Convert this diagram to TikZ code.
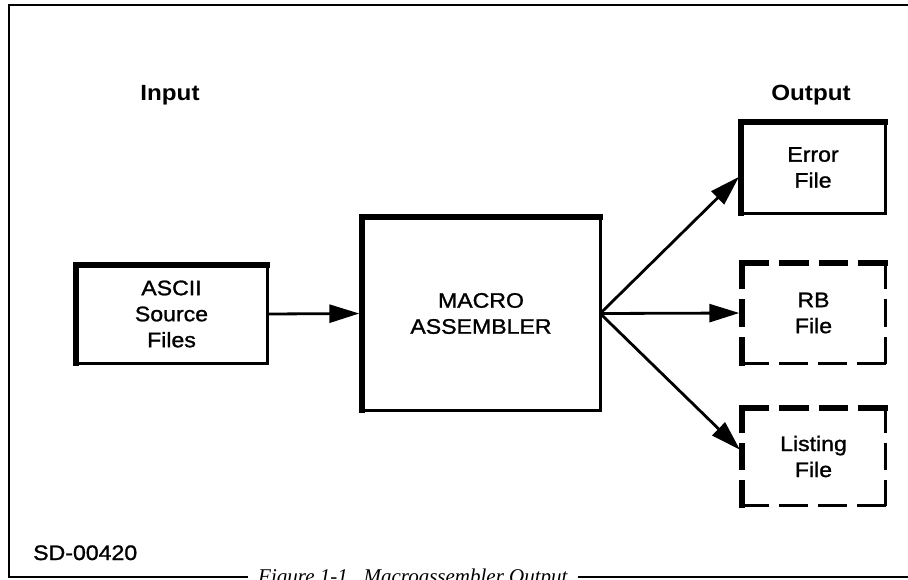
\documentclass[tikz,border=0pt]{standalone}
\usepackage{fontspec}
\setmainfont{Liberation Sans}
\newfontfamily\labfont{Liberation Sans}[FakeStretch=1.1,FakeBold=1.2]
\newfontfamily\headfont{Liberation Sans}[FakeStretch=1.1]
\newfontfamily\capfont{Liberation Serif}
\usetikzlibrary{arrows.meta,calc}
\tikzset{
  lab/.style={font=\labfont\fontsize{21}{26}\selectfont, align=center},
  head/.style={font=\headfont\bfseries\fontsize{22}{26}\selectfont, inner sep=0pt},
  box/.style={draw=none, inner sep=0pt},
  thickside/.style={line width=5.5pt, line cap=rect},
  thinside/.style={line width=3pt, line cap=rect},
  arr/.style={line width=2.8pt, -{Triangle[length=30pt,width=18pt]}, shorten >=2.5pt},
  frameline/.style={line width=2.6pt},
}
\begin{document}
\begin{tikzpicture}[x=1pt,y=-1pt]
\fill[white] (0,0) rectangle (908,579);
\useasboundingbox (0,0) rectangle (908,579);
\clip (0,0) rectangle (908,579);

% frame
\coordinate (ftl) at (9,5);
\coordinate (fbl) at (9,577);
\coordinate (ftr) at (912,5);
\coordinate (fbr) at (912,577);
\node[font=\capfont\itshape\fontsize{21}{24}\selectfont, anchor=base west, inner sep=0pt]
  (cap) at (258,583) {Figure 1-1.~~Macroassembler Output};
\draw[frameline] (ftr) -- (ftl) -- (fbl) -- ([xshift=-10pt]cap.west |- fbl);
\draw[frameline] ([xshift=10pt]cap.east |- fbl) -- (fbr);

% labels
\node[head, anchor=base] (inp) at (170,100) {Input};
\node[head, anchor=base] (outp) at (811,100) {Output};
\node[lab, anchor=base west, inner sep=0pt] (sd) at (33,560) {SD-00420};

% boxes
\node[box, lab, minimum width=191pt, minimum height=98pt] (ascii) at (171.5,314) {ASCII\\Source\\Files};
\node[box, lab, minimum width=238pt, minimum height=193pt] (macro) at (481,313.5) {MACRO\\ASSEMBLER};
\node[box, lab, minimum width=144pt, minimum height=91pt] (error) at (813,167.5) {Error\\File};
\node[box, lab, minimum width=143pt, minimum height=100pt] (rb) at (813.5,313) {RB\\File};
\node[box, lab, minimum width=143pt, minimum height=97pt] (listing) at (813.5,456.5) {Listing\\File};

% solid borders
\foreach \n in {ascii,macro,error}{
  \draw[thickside] (\n.south west) -- (\n.north west) -- (\n.north east);
  \draw[thinside] (\n.north east) -- (\n.south east) -- (\n.south west);
}
% dashed borders (thick top/left, thin bottom/right)
\draw[thickside, dash pattern=on 24.3pt off 15.5pt] (rb.north west) -- (rb.north east);
\draw[thickside, dash pattern=on 23pt off 15.5pt] (rb.north west) -- (rb.south west);
\draw[thinside, dash pattern=on 26pt off 13pt] (rb.south west) -- (rb.south east);
\draw[thinside, dash pattern=on 24.67pt off 13pt] (rb.north east) -- (rb.south east);

\draw[thickside, dash pattern=on 24.3pt off 15.5pt] (listing.north west) -- (listing.north east);
\draw[thickside, dash pattern=on 22pt off 15.5pt] (listing.north west) -- (listing.south west);
\draw[thinside, dash pattern=on 26pt off 13pt] (listing.south west) -- (listing.south east);
\draw[thinside, dash pattern=on 23.67pt off 13pt] (listing.north east) -- (listing.south east);

% arrows
\draw[arr] (ascii.east) -- (macro.west);
\draw[arr] (macro.east) -- (error.186);
\draw[arr] (macro.east) -- (rb.west);
\draw[arr] (macro.east) -- (listing.176);
\end{tikzpicture}
\end{document}
